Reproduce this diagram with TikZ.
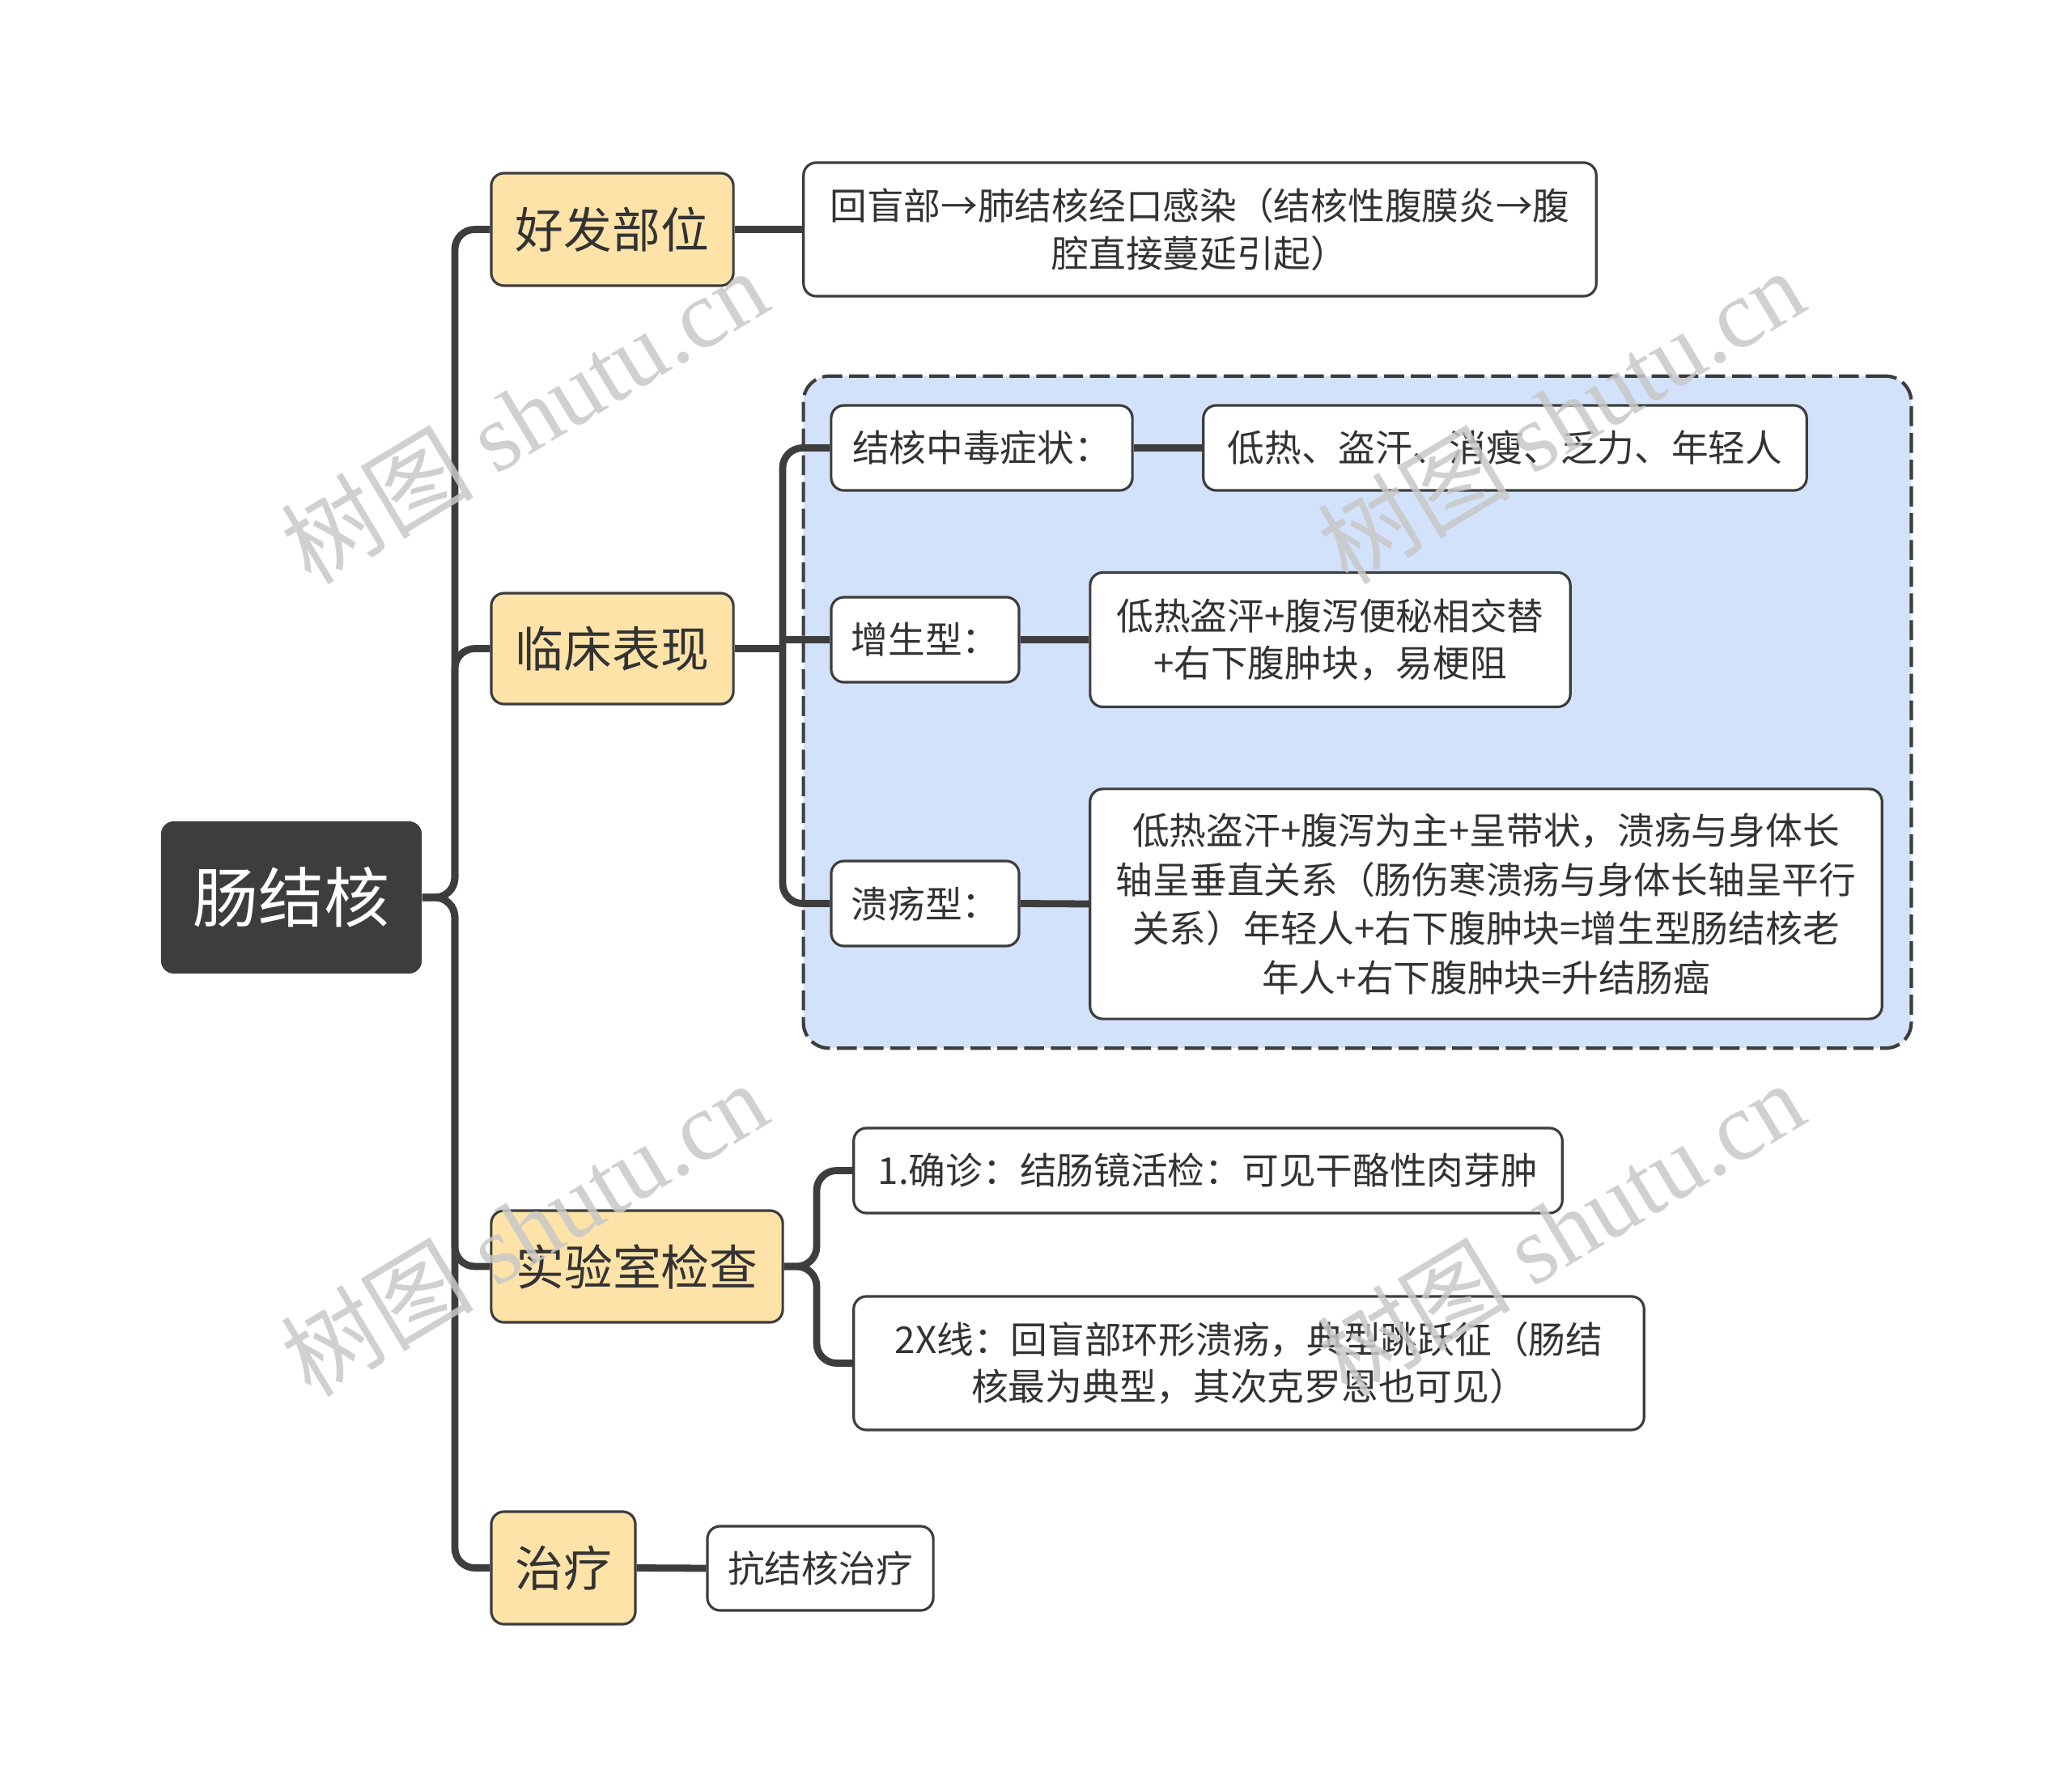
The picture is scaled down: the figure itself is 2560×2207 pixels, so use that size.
\documentclass[tikz,border=0pt]{standalone}
\usepackage{fontspec}
\setmainfont{Noto Sans CJK SC}
\newfontfamily\wmlatin{Liberation Serif}
\newfontfamily\wmcjk{Noto Sans CJK SC}
\definecolor{dark}{HTML}{3D3D3D}
\definecolor{txt}{HTML}{333333}
\definecolor{yel}{HTML}{FEE3A9}
\definecolor{blu}{HTML}{D3E2FB}
\definecolor{wmc}{HTML}{C8C8C8}
\tikzset{
  box/.style={rectangle, draw=dark, line width=0.9pt, rounded corners=4.5pt, inner sep=0pt, align=center, text=txt},
  rootbox/.style={rectangle, fill=dark, rounded corners=4.5pt, inner sep=0pt, align=center, text=white, font=\fontsize{23}{28}\selectfont},
  lvone/.style={box, fill=yel, font=\fontsize{17}{20}\selectfont},
  lvtwo/.style={box, fill=white, font=\fontsize{13}{16.6}\selectfont},
  grp/.style={rectangle, draw=dark, fill=blu, line width=1.2pt, dash pattern=on 7pt off 2.4pt, rounded corners=9pt, inner sep=0pt},
  conn/.style={draw=dark, line width=2.5pt, rounded corners=7pt},
  wm/.style={text=wmc, opacity=0.85, font=\fontsize{34}{40}\selectfont, inner sep=0pt}
}
\begin{document}
\begin{tikzpicture}[x=0.01cm,y=-0.01cm]
\useasboundingbox[fill=white] (0,0) rectangle (2560,2207);
% group frame
\node[grp, minimum width=13.68cm, minimum height=8.30cm] (grp) at (1677,880) {};
% nodes
\node[rootbox, minimum width=3.22cm, minimum height=1.88cm] (root) at (360,1109) {肠结核};
\node[lvone, minimum width=2.99cm, minimum height=1.39cm] (h1) at (756.5,283.5) {好发部位};
\node[lvone, minimum width=2.99cm, minimum height=1.37cm] (h2) at (756.5,801.5) {临床表现};
\node[lvone, minimum width=3.60cm, minimum height=1.38cm] (h3) at (787,1565) {实验室检查};
\node[lvone, minimum width=1.78cm, minimum height=1.39cm] (h4) at (696,1937.5) {治疗};
\node[lvtwo, minimum width=9.79cm, minimum height=1.65cm] (a1) at (1482.5,283.5) {回盲部→肺结核经口感染（结核性腹膜炎→腹\\腔直接蔓延引起）};
\node[lvtwo, minimum width=3.72cm, minimum height=1.05cm] (b1) at (1213,553.5) {结核中毒症状：};
\node[lvtwo, minimum width=7.45cm, minimum height=1.05cm] (b1v) at (1859.5,553.5) {低热、盗汗、消瘦、乏力、年轻人};
\node[lvtwo, minimum width=2.32cm, minimum height=1.05cm] (b2) at (1143,790.5) {增生型：};
\node[lvtwo, minimum width=5.93cm, minimum height=1.66cm] (b2v) at (1643.5,790.5) {低热盗泙+腹泻便秘相交替\\+右下腹肿块，易梗阻};
\node[lvtwo, minimum width=2.32cm, minimum height=1.05cm] (b3) at (1143,1116.5) {溃疡型：};
\node[lvtwo, minimum width=9.78cm, minimum height=2.84cm, font=\fontsize{13}{17.2}\selectfont] (b3v) at (1836,1117) {低热盗汗+腹泻为主+呈带状，溃疡与身体长\\轴呈垂直关系（肠伤寒溃疡与身体长轴呈平行\\关系）年轻人+右下腹肿块=增生型肠结核老\\年人+右下腹肿块=升结肠癌};
\node[lvtwo, minimum width=8.75cm, minimum height=1.05cm] (c1) at (1492.5,1446.5) {1.确诊：结肠镜活检：可见干酪性肉芽肿};
\node[lvtwo, minimum width=9.76cm, minimum height=1.65cm] (c2) at (1543,1684.5) {2X线：回盲部环形溃疡，典型跳跃征（肠结\\核最为典型，其次克罗恩也可见）};
\node[lvtwo, minimum width=2.79cm, minimum height=1.04cm] (d1) at (1013.5,1938) {抗结核治疗};
% junction coordinates
\coordinate (k0) at (562,1109);
\coordinate (k2) at (967,801.5);
\coordinate (k3) at (1009,1565);
% connectors
\draw[conn] (root.east) -- (k0) |- (h1.west);
\draw[conn] (root.east) -- (k0) |- (h2.west);
\draw[conn] (root.east) -- (k0) |- (h3.west);
\draw[conn] (root.east) -- (k0) |- (h4.west);
\draw[conn] (h1.east) -- (a1.west);
\draw[conn] (h2.east) -- (k2);
\draw[conn] (b1.west) -| (k2) |- (b3.west);
\draw[conn] (k2 |- b2.west) -- (b2.west);
\draw[conn] (b1.east) -- (b1v.west);
\draw[conn] (b2.east) -- (b2v.west);
\draw[conn] (b3.east) -- (b3v.west);
\draw[conn] (h3.east) -- (k3) |- (c1.west);
\draw[conn] (h3.east) -- (k3) |- (c2.west);
\draw[conn] (h4.east) -- (d1.west);
% watermarks
\node[wm, rotate=31] (wm1) at (647,514) {{\wmcjk 树图} {\wmlatin shutu.cn}};
\node[wm, rotate=31] (wm2) at (1928,514) {{\wmcjk 树图} {\wmlatin shutu.cn}};
\node[wm, rotate=31] (wm3) at (647,1518) {{\wmcjk 树图} {\wmlatin shutu.cn}};
\node[wm, rotate=31] (wm4) at (1928,1518) {{\wmcjk 树图} {\wmlatin shutu.cn}};
\end{tikzpicture}
\end{document}
